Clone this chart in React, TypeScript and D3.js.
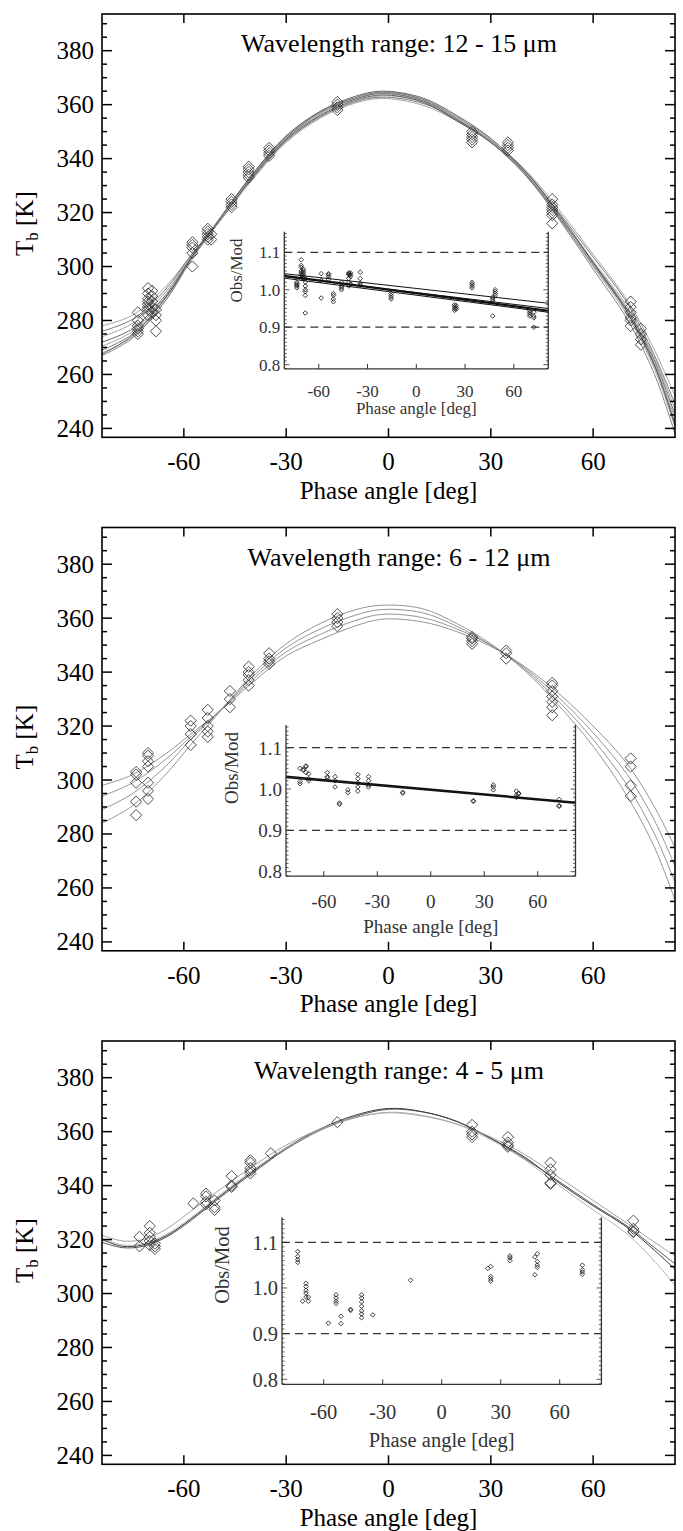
import React from 'react';
import * as d3 from 'd3';

const W = 683;
const H = 1531;

// ---------- axis ticks ----------
const PHASE_TICKS = [-60, -30, 0, 30, 60];
const TB_TICKS = [240, 260, 280, 300, 320, 340, 360, 380];
const RATIO_TICKS = [0.8, 0.9, 1.0, 1.1];
const DASH_LEVELS = [0.9, 1.1];

const TITLES = [
  'Wavelength range: 12 - 15 \u03bcm',
  'Wavelength range: 6 - 12 \u03bcm',
  'Wavelength range: 4 - 5 \u03bcm',
];

// ---------- panel 1 : 12-15 um ----------
const grid12_15 = [-84, -75, -65, -58, -50, -40, -30, -20, -10, -2, 10, 20, 30, 40, 50, 60, 70, 78, 84];
const curve12_15_a = [278, 282, 293, 304, 316, 332, 346, 355, 360.5, 362.3, 359.8, 354, 346.5, 336, 321, 304.5, 287.5, 269, 252];
const curve12_15_b = [276, 280.5, 292, 304, 316.5, 332.5, 346.5, 355.5, 361, 362.8, 360.5, 354.5, 346.5, 335.5, 320, 303.5, 286.5, 267, 249];
const curve12_15_c = [274, 279, 291, 303.5, 316, 333, 347, 356, 361, 363.3, 361, 354, 346, 335, 319, 302, 285, 266, 247];
const curve12_15_d = [272, 277, 290, 303, 316, 333, 347, 356, 361.5, 363.6, 361, 354, 346, 334.5, 318.5, 301.5, 284, 265, 245];
const curve12_15_e = [270.5, 276, 289.5, 303, 316.5, 333.5, 347.5, 356.5, 362, 364, 361.5, 355, 346.5, 335, 319, 301, 283.5, 264, 243.5];
const curve12_15_f = [269, 275, 289, 302.5, 316, 333, 347.5, 357, 362, 364.2, 361.5, 354.5, 346, 334, 318, 300.5, 283, 263, 242];
const curve12_15_g = [268, 274, 288, 302, 316, 333.5, 348, 357, 362.5, 364.5, 362, 355, 346.5, 334.5, 318, 300, 282, 262, 240.5];
const curve12_15_h = [267, 273.5, 288, 302.5, 316.5, 334, 348, 357.5, 362.5, 364.7, 362, 355.5, 347, 334.5, 317.5, 299, 280.5, 260, 238];
const curve12_15_i = [267.5, 274.5, 289, 303, 317, 334, 348.5, 357.5, 363, 365, 362.5, 356, 347.5, 335.5, 319.5, 301.5, 283, 263.5, 241];

const obs12_15 = [
  { x: -73.5, t: [275, 276, 277, 278, 280, 283] },
  { x: -70.5, t: [282, 284, 285, 286, 287, 288, 290, 292] },
  { x: -69.3, t: [283, 285, 287, 289, 291] },
  { x: -68.2, t: [276, 280, 282, 284] },
  { x: -57.5, t: [300, 305, 307, 308, 309] },
  { x: -53, t: [310, 311, 312, 313, 314] },
  { x: -52, t: [310, 312] },
  { x: -46, t: [322, 323, 324, 325] },
  { x: -41, t: [333, 334, 335, 336, 337] },
  { x: -35, t: [341, 342, 343, 344] },
  { x: -15, t: [358, 359, 360, 361] },
  { x: 24.5, t: [346, 347, 348, 349, 350] },
  { x: 35, t: [343, 344, 345, 346] },
  { x: 48, t: [316, 319, 320, 321, 322, 323, 325] },
  { x: 71, t: [278, 280, 281, 283, 285, 287] },
  { x: 74, t: [271, 273, 275, 277] },
];

const ratio12_15 = [
  { x: -73.5, r: [1.005, 1.01, 1.013, 1.016, 1.02] },
  { x: -70.8, r: [1.03, 1.04, 1.045, 1.05, 1.06, 1.065, 1.08] },
  { x: -69.5, r: [1.035, 1.04, 1.045, 1.05, 1.055, 1.03] },
  { x: -68.3, r: [0.985, 0.995, 1.0, 1.01, 1.02, 1.03, 0.938] },
  { x: -58.5, r: [1.043, 1.025, 0.978] },
  { x: -54, r: [1.028, 1.035, 1.04, 1.043] },
  { x: -51, r: [0.968, 0.975, 0.985, 0.99] },
  { x: -46, r: [1.0, 1.005, 1.01, 1.02] },
  { x: -41.5, r: [1.01, 1.02, 1.03, 1.04, 1.043, 1.045] },
  { x: -40.5, r: [1.015, 1.035, 1.04, 1.045] },
  { x: -34.5, r: [1.012, 1.018, 1.03, 1.047] },
  { x: -15.5, r: [0.975, 0.98, 0.985, 0.99] },
  { x: 23.5, r: [0.945, 0.95, 0.955, 0.96] },
  { x: 24.5, r: [0.948, 0.952, 0.958] },
  { x: 34.3, r: [1.005, 1.01, 1.015, 1.02] },
  { x: 47, r: [0.97, 0.975, 0.98, 0.93] },
  { x: 48.5, r: [0.985, 0.99, 0.995, 1.0] },
  { x: 69.8, r: [0.93, 0.935, 0.94, 0.945] },
  { x: 72.3, r: [0.925, 0.93, 0.94, 0.9] },
];
// fitted trend lines: ratio at left and right edge
const fits12_15 = [
  [1.043, 0.964],
  [1.031, 0.94],
  [1.035, 0.95],
  [1.037, 0.944],
];

// ---------- panel 2 : 6-12 um ----------
const grid6_12 = [-84, -75, -65, -58, -50, -40, -30, -20, -10, -2, 10, 20, 30, 40, 50, 60, 70, 78, 84];
const curve6_12_a = [298, 302, 310, 317, 325, 336, 346, 352, 357, 359.6, 358.6, 355, 349.5, 342, 332, 320, 306, 290, 275];
const curve6_12_b = [294, 299, 308, 316, 325, 337, 347.5, 354, 359, 361.4, 360.2, 356, 350, 341.5, 330.5, 317.5, 302, 285, 268];
const curve6_12_c = [289, 295, 305.5, 315, 325, 338, 349, 356, 361, 363.2, 362, 357, 350, 341, 329, 315, 298, 280, 262];
const curve6_12_d = [284, 290.5, 302.5, 313, 324.5, 339, 350.5, 358, 363, 364.8, 363.5, 358, 350.5, 340.5, 327.5, 312.5, 294, 275, 255.5];

const obs6_12 = [
  { x: -74, t: [287, 292, 299, 302, 303] },
  { x: -70.5, t: [293, 296, 299, 305, 307, 309, 310] },
  { x: -58, t: [313, 317, 320, 322] },
  { x: -53, t: [316, 318, 320, 323, 326] },
  { x: -46.5, t: [327, 330, 333] },
  { x: -41, t: [335, 337, 339, 340, 342] },
  { x: -35, t: [343, 344, 345, 347] },
  { x: -15, t: [357, 358.5, 360, 361.5] },
  { x: 24.5, t: [350.5, 351.5, 352.5, 353] },
  { x: 34.5, t: [345, 347, 348] },
  { x: 48, t: [324, 327, 329, 331, 333, 335, 336] },
  { x: 71, t: [294, 298, 305, 308] },
];

const ratio6_12 = [
  { x: -73.3, r: [1.05, 1.018, 1.013] },
  { x: -71.5, r: [1.048, 1.045] },
  { x: -70, r: [1.056, 1.054, 1.04] },
  { x: -68.5, r: [1.037, 1.025, 1.02] },
  { x: -58, r: [1.04, 1.03, 1.027] },
  { x: -53.7, r: [1.03, 1.02, 1.005] },
  { x: -51.2, r: [0.966, 0.963] },
  { x: -46.5, r: [0.998, 0.991] },
  { x: -40.9, r: [1.035, 1.025, 1.015, 1.005, 0.995] },
  { x: -34.9, r: [1.03, 1.02, 1.01, 1.005] },
  { x: -15.7, r: [0.99, 0.992] },
  { x: 23.9, r: [0.972, 0.97] },
  { x: 35.1, r: [1.01, 1.005, 0.998] },
  { x: 48, r: [0.995, 0.985, 0.98] },
  { x: 49.3, r: [0.99, 0.988] },
  { x: 72, r: [0.975, 0.958, 0.96] },
];
const fits6_12 = [
  [1.031, 0.968],
  [1.028, 0.966],
];

// ---------- panel 3 : 4-5 um ----------
const grid4_5 = [-84, -78, -72, -65, -58, -50, -40, -30, -20, -10, 0, 10, 20, 30, 40, 50, 60, 70, 78, 84];
const curve4_5_a = [320, 317.5, 318, 321.5, 327.5, 335.5, 345, 354, 361, 366, 368.6, 367.4, 363.8, 357.5, 350.5, 341, 332.5, 324.5, 316, 309];
const curve4_5_b = [319, 317, 317.5, 321, 327, 335, 344.5, 353.5, 360.5, 365.5, 368.3, 367.3, 363.8, 357.5, 350, 341.5, 333, 325, 317, 311];
const curve4_5_c = [321.6, 319.5, 320, 324, 330.5, 338, 347, 355, 361, 365.2, 367, 365.8, 362.8, 358, 351.5, 343, 334.5, 326, 319, 314];
const curve4_5_d = [320.5, 318, 318.5, 322, 328, 336, 345.5, 354, 360.5, 365, 367.2, 366, 362.8, 357, 349.5, 340, 331, 322, 312, 303];

const obs4_5 = [
  { x: -73, t: [317.5, 321] },
  { x: -70, t: [318, 319.5, 321, 322.5, 325] },
  { x: -68.5, t: [316.5, 317.5, 318.5] },
  { x: -57.2, t: [333.4] },
  { x: -53.5, t: [333, 334, 336, 337] },
  { x: -51, t: [331, 332, 334.5] },
  { x: -46, t: [339.5, 340, 343.5] },
  { x: -40.5, t: [344.5, 345.5, 346.5, 348.5, 349.4] },
  { x: -34.5, t: [352] },
  { x: -15, t: [363.5] },
  { x: 24.5, t: [358, 359, 360, 362.5] },
  { x: 35, t: [354.4, 355, 356, 358] },
  { x: 47.5, t: [340.7, 341, 344, 346, 348.5] },
  { x: 71.8, t: [322.8, 323, 324, 327] },
];

const ratio4_5 = [
  { x: -73.2, r: [1.08, 1.069, 1.062, 1.056] },
  { x: -70.7, r: [0.971] },
  { x: -69, r: [1.01, 1.003, 0.995, 0.989, 0.98] },
  { x: -67.8, r: [0.98, 0.971] },
  { x: -57.6, r: [0.923] },
  { x: -53.7, r: [0.985, 0.978, 0.971, 0.966] },
  { x: -51.2, r: [0.938, 0.922] },
  { x: -46.3, r: [0.951, 0.953] },
  { x: -40.7, r: [0.985, 0.978, 0.97, 0.96, 0.95, 0.943, 0.935] },
  { x: -35, r: [0.941] },
  { x: -15.8, r: [1.017] },
  { x: 23.4, r: [1.043] },
  { x: 24.9, r: [1.047, 1.025, 1.02, 1.015] },
  { x: 34.7, r: [1.07, 1.066, 1.06] },
  { x: 47.4, r: [1.068, 1.029] },
  { x: 48.6, r: [1.075, 1.058, 1.05, 1.045] },
  { x: 71.5, r: [1.05, 1.04, 1.035, 1.03] },
];
const fits4_5: number[][] = [];

// ---------- layout ----------
const FONT = "'Liberation Serif', 'Times New Roman', serif";
const PANEL_PITCH = 513.5;
const PLOT = { left: 102, right: 675, top: 14, bottom: 437.3 };
const X_DOMAIN = [-84, 84];
const T_DOMAIN = [236.7, 393.6];
const INSET_X_DOMAIN = [-81.2, 81.2];
const INSET_R_DOMAIN = [0.789, 1.155];

type Inset = {
  x0: number; x1: number; yTop: number; yBottom: number; fs: number;
  tickBase: number; titleBase: number; ylabX: number; ylabY: number;
};

const INSETS: Inset[] = [
  { x0: 284.3, x1: 548.3, yTop: 231.7, yBottom: 368.8, fs: 17, tickBase: 27.7, titleBase: 45, ylabX: 241.5, ylabY: 270.5 },
  { x0: 286, x1: 575.5, yTop: 211.5, yBottom: 362.7, fs: 19, tickBase: 32, titleBase: 57, ylabX: 238, ylabY: 254.5 },
  { x0: 282, x1: 601.4, yTop: 190.2, yBottom: 357.3, fs: 20.5, tickBase: 34.3, titleBase: 62.5, ylabX: 229, ylabY: 238 },
];

const diamond = (cx: number, cy: number, r: number) =>
  `M${cx},${cy - r}L${cx + r},${cy}L${cx},${cy + r}L${cx - r},${cy}Z`;

function MainPanel({ idx, grid, curves, curveColors, obs, ratios, fits, fitWidths }: any) {
  const oy = idx * PANEL_PITCH;
  const x = d3.scaleLinear().domain(X_DOMAIN).range([PLOT.left, PLOT.right]);
  const y = d3.scaleLinear().domain(T_DOMAIN).range([PLOT.bottom + oy, PLOT.top + oy]);
  const line = d3
    .line<number>()
    .x((_, i) => x(grid[i]))
    .y((d) => y(d))
    .curve(d3.curveCatmullRom.alpha(0.5));
  const clipId = `clip${idx}`;
  const minorT = d3.range(240, 395, 5);
  const ins = INSETS[idx];
  const ix = d3.scaleLinear().domain(INSET_X_DOMAIN).range([ins.x0, ins.x1]);
  const iy = d3.scaleLinear().domain(INSET_R_DOMAIN).range([ins.yBottom + oy, ins.yTop + oy]);
  const iTop = ins.yTop + oy;
  const iBot = ins.yBottom + oy;
  const minorR = d3.range(79, 116).map((v) => v / 100);
  const panelMidY = (PLOT.top + PLOT.bottom) / 2 + oy;

  return (
    <g>
      <defs>
        <clipPath id={clipId}>
          <rect x={PLOT.left} y={PLOT.top + oy} width={PLOT.right - PLOT.left} height={PLOT.bottom - PLOT.top} />
        </clipPath>
      </defs>
      {/* model curves */}
      <g clipPath={`url(#${clipId})`}>
        {curves.map((c: number[], i: number) => (
          <path key={i} d={line(c) || ''} fill="none" stroke={curveColors[i]} strokeWidth={0.9} />
        ))}
      </g>
      {/* observations */}
      <g>
        {obs.flatMap((g: any, gi: number) =>
          g.t.map((t: number, j: number) => (
            <path key={`${gi}-${j}`} d={diamond(x(g.x), y(t), 5.6)} fill="none" stroke="#3a3a3a" strokeWidth={0.9} />
          ))
        )}
      </g>
      {/* frame */}
      <rect x={PLOT.left} y={PLOT.top + oy} width={PLOT.right - PLOT.left} height={PLOT.bottom - PLOT.top} fill="none" stroke="#000" strokeWidth={1.6} />
      {PHASE_TICKS.map((v) => (
        <g key={v}>
          <line x1={x(v)} x2={x(v)} y1={PLOT.bottom + oy} y2={PLOT.bottom + oy - 9} stroke="#000" strokeWidth={1.5} />
          <line x1={x(v)} x2={x(v)} y1={PLOT.top + oy} y2={PLOT.top + oy + 9} stroke="#000" strokeWidth={1.5} />
          <text x={x(v)} y={PLOT.bottom + oy + 33} textAnchor="middle" fontSize={25} fontFamily={FONT}>{v}</text>
        </g>
      ))}
      {minorT.map((v) => {
        const major = v % 20 === 0;
        const len = major ? 10 : 5;
        return (
          <g key={v}>
            <line x1={PLOT.left} x2={PLOT.left + len} y1={y(v)} y2={y(v)} stroke="#000" strokeWidth={1.5} />
            <line x1={PLOT.right} x2={PLOT.right - len} y1={y(v)} y2={y(v)} stroke="#000" strokeWidth={1.5} />
          </g>
        );
      })}
      {TB_TICKS.map((v) => (
        <text key={v} x={PLOT.left - 8} y={y(v) + 8.5} textAnchor="end" fontSize={25} fontFamily={FONT}>{v}</text>
      ))}
      <text x={(PLOT.left + PLOT.right) / 2} y={PLOT.bottom + oy + 61.5} textAnchor="middle" fontSize={25} fontFamily={FONT}>Phase angle [deg]</text>
      <text transform={`translate(33,${panelMidY - 2}) rotate(-90)`} textAnchor="middle" fontSize={25} fontFamily={FONT}>
        <tspan>T</tspan>
        <tspan dy={5} fontSize={17}>b</tspan>
        <tspan dy={-5}> [K]</tspan>
      </text>
      <text x={399} y={PLOT.top + oy + 38} textAnchor="middle" fontSize={26} fontFamily={FONT}>{TITLES[idx]}</text>

      {/* inset */}
      <g>
        {DASH_LEVELS.map((v) => (
          <line key={v} x1={ins.x0} x2={ins.x1} y1={iy(v)} y2={iy(v)} stroke="#333" strokeWidth={1.2} strokeDasharray="8,5" />
        ))}
        {fits.map((f: number[], i: number) => (
          <line key={i} x1={ix(INSET_X_DOMAIN[0])} x2={ix(INSET_X_DOMAIN[1])} y1={iy(f[0])} y2={iy(f[1])} stroke="#111" strokeWidth={fitWidths[i]} />
        ))}
        {ratios.flatMap((g: any, gi: number) =>
          g.r.map((r: number, j: number) => (
            <path key={`${gi}-${j}`} d={diamond(ix(g.x), iy(r), 2.3)} fill="none" stroke="#111" strokeWidth={0.8} />
          ))
        )}
        <line x1={ins.x0} x2={ins.x0} y1={iTop} y2={iBot} stroke="#333" strokeWidth={1.3} />
        <line x1={ins.x1} x2={ins.x1} y1={iTop} y2={iBot} stroke="#333" strokeWidth={1.3} />
        <line x1={ins.x0} x2={ins.x1} y1={iBot} y2={iBot} stroke="#333" strokeWidth={1.3} />
        {minorR.map((v) => {
          const major = Math.abs(v * 10 - Math.round(v * 10)) < 1e-6;
          const len = major ? 5 : 2.5;
          return (
            <g key={v}>
              <line x1={ins.x0} x2={ins.x0 + len} y1={iy(v)} y2={iy(v)} stroke="#333" strokeWidth={0.8} />
              <line x1={ins.x1} x2={ins.x1 - len} y1={iy(v)} y2={iy(v)} stroke="#333" strokeWidth={0.8} />
            </g>
          );
        })}
        {PHASE_TICKS.map((v) => (
          <g key={v}>
            <line x1={ix(v)} x2={ix(v)} y1={iBot} y2={iBot - 5} stroke="#333" strokeWidth={1} />
            <text x={ix(v)} y={iBot + ins.tickBase} textAnchor="middle" fontSize={ins.fs} fontFamily={FONT} fill="#333">{v}</text>
          </g>
        ))}
        {RATIO_TICKS.map((v) => (
          <text key={v} x={ins.x0 - 4} y={iy(v) + ins.fs * 0.36} textAnchor="end" fontSize={ins.fs} fontFamily={FONT} fill="#333">{v.toFixed(1)}</text>
        ))}
        <text x={(ins.x0 + ins.x1) / 2} y={iBot + ins.titleBase} textAnchor="middle" fontSize={ins.fs} fontFamily={FONT} fill="#333">Phase angle [deg]</text>
        <text transform={`translate(${ins.ylabX},${ins.ylabY + oy}) rotate(-90)`} textAnchor="middle" fontSize={ins.fs} fontFamily={FONT} fill="#333">Obs/Mod</text>
      </g>
    </g>
  );
}

export default function App() {
  const panels = [
    {
      grid: grid12_15,
      curves: [curve12_15_a, curve12_15_b, curve12_15_c, curve12_15_d, curve12_15_e, curve12_15_f, curve12_15_g, curve12_15_h, curve12_15_i],
      curveColors: ['#999', '#666', '#999', '#555', '#999', '#666', '#999', '#777', '#555'],
      obs: obs12_15,
      ratios: ratio12_15,
      fits: fits12_15,
      fitWidths: [1, 1, 1, 2.2],
    },
    {
      grid: grid6_12,
      curves: [curve6_12_a, curve6_12_b, curve6_12_c, curve6_12_d],
      curveColors: ['#888', '#888', '#888', '#888'],
      obs: obs6_12,
      ratios: ratio6_12,
      fits: fits6_12,
      fitWidths: [1.6, 1.6],
    },
    {
      grid: grid4_5,
      curves: [curve4_5_a, curve4_5_b, curve4_5_c, curve4_5_d],
      curveColors: ['#222', '#444', '#999', '#aaa'],
      obs: obs4_5,
      ratios: ratio4_5,
      fits: fits4_5,
      fitWidths: [],
    },
  ];
  return (
    <svg width={W} height={H} viewBox={`0 0 ${W} ${H}`} style={{ position: 'absolute', left: 0, top: 0, background: '#fff' }}>
      <rect x={0} y={0} width={W} height={H} fill="#fff" />
      {panels.map((p, i) => (
        <MainPanel key={i} idx={i} {...p} />
      ))}
    </svg>
  );
}
